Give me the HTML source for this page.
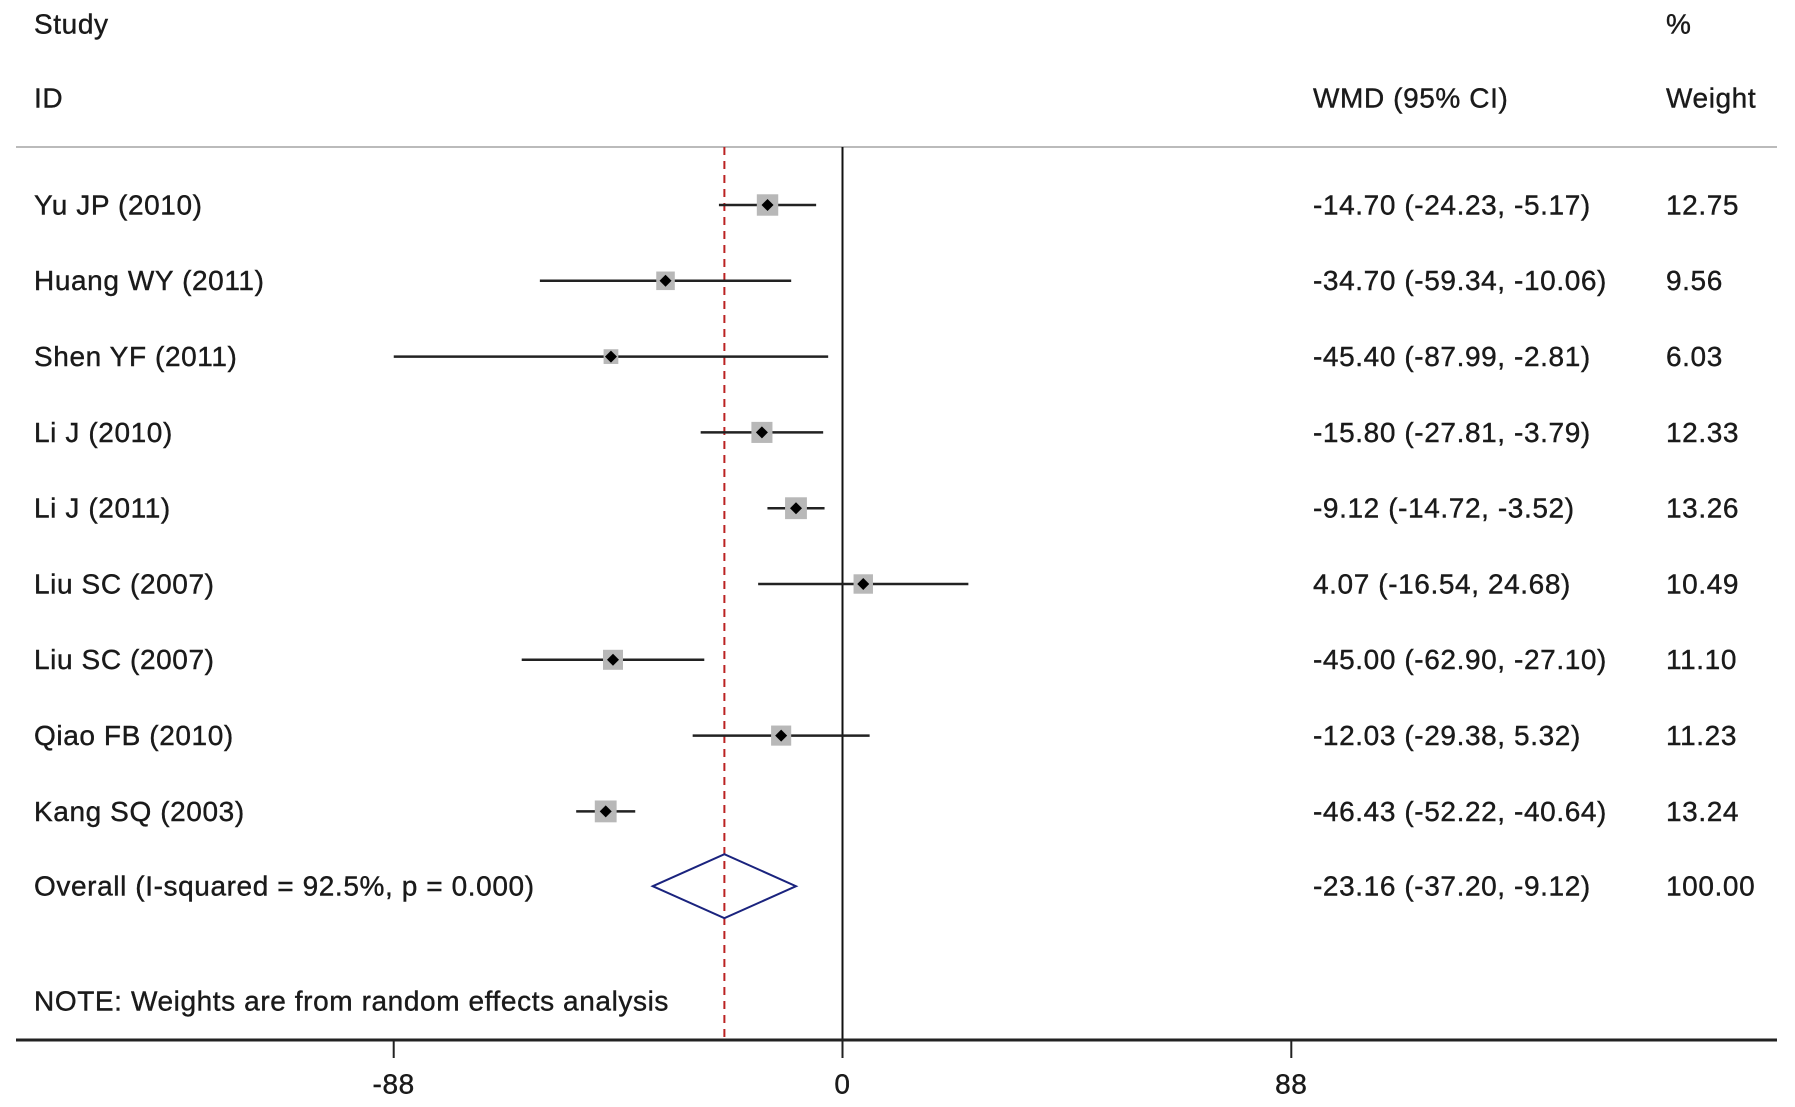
<!DOCTYPE html>
<html><head><meta charset="utf-8"><style>
body{margin:0;background:#fff;}
svg{display:block;}
text{font-family:"Liberation Sans",sans-serif;font-size:28px;letter-spacing:0.6px;fill:#1a1a1a;stroke:#1a1a1a;stroke-width:0.4px;}
</style></head><body>
<svg id="chart" width="1795" height="1107" viewBox="0 0 1795 1107" xmlns="http://www.w3.org/2000/svg">
<g id="g"></g>
</svg>
<script>
const studies=["Yu JP (2010)","Huang WY (2011)","Shen YF (2011)","Li J (2010)","Li J (2011)","Liu SC (2007)","Liu SC (2007)","Qiao FB (2010)","Kang SQ (2003)"];
const est=[-14.70,-34.70,-45.40,-15.80,-9.12,4.07,-45.00,-12.03,-46.43];
const lo=[-24.23,-59.34,-87.99,-27.81,-14.72,-16.54,-62.90,-29.38,-52.22];
const hi=[-5.17,-10.06,-2.81,-3.79,-3.52,24.68,-27.10,5.32,-40.64];
const weights=[12.75,9.56,6.03,12.33,13.26,10.49,11.10,11.23,13.24];
const ciLabels=["-14.70 (-24.23, -5.17)","-34.70 (-59.34, -10.06)","-45.40 (-87.99, -2.81)","-15.80 (-27.81, -3.79)","-9.12 (-14.72, -3.52)","4.07 (-16.54, 24.68)","-45.00 (-62.90, -27.10)","-12.03 (-29.38, 5.32)","-46.43 (-52.22, -40.64)"];
const weightLabels=["12.75","9.56","6.03","12.33","13.26","10.49","11.10","11.23","13.24"];
const overall=[-23.16,-37.20,-9.12];
const ticks=[-88,0,88];

const NS="http://www.w3.org/2000/svg";
const g=document.getElementById('g');
const X=v=>842.5+v*5.1;
const rowY=i=>205+i*75.8;
function el(t,a,name){const e=document.createElementNS(NS,t);for(const k in a)e.setAttribute(k,a[k]);


g.appendChild(e);return e;}
function txt(x,y,s,name,anchor){const e=el('text',{x:x,y:y+2,'dominant-baseline':'middle','text-anchor':anchor||'start'},name);e.textContent=s;return e;}

txt(34,24,"Study","study-header");
txt(34,98,"ID","id-header");
txt(1313,98,"WMD (95% CI)","wmd-header");
txt(1666,24,"%","percent-header");
txt(1666,98,"Weight","weight-header");
el('line',{x1:16,x2:1777,y1:147,y2:147,stroke:'#bbb','stroke-width':2},'header-rule');
el('line',{x1:X(0),x2:X(0),y1:147,y2:1040,stroke:'#111','stroke-width':2},'null-line');
el('line',{x1:X(overall[0]),x2:X(overall[0]),y1:147,y2:1040,stroke:'#b22','stroke-width':2,'stroke-dasharray':'8,6'},'overall-effect-line');

studies.forEach((s,i)=>{const y=rowY(i);
txt(34,y,s,'study-label');
el('line',{x1:X(lo[i]),x2:X(hi[i]),y1:y,y2:y,stroke:'#222','stroke-width':2.5},'ci-line');
const sz=6*Math.sqrt(weights[i]);
el('rect',{x:X(est[i])-sz/2,y:y-sz/2,width:sz,height:sz,fill:'#b8b8b8'},'weight-box');
const d=6;
el('polygon',{points:`${X(est[i])-d},${y} ${X(est[i])},${y-d} ${X(est[i])+d},${y} ${X(est[i])},${y+d}`,fill:'#000'},'point-estimate');
txt(1313,y,ciLabels[i],'ci-label');
txt(1666,y,weightLabels[i],'weight-label');
});
const oy=rowY(9)-1;
txt(34,oy,"Overall  (I-squared = 92.5%, p = 0.000)","overall-label").setAttribute('xml:space','preserve');
el('polygon',{points:`${X(overall[1])},${oy} ${X(overall[0])},${oy-32} ${X(overall[2])},${oy} ${X(overall[0])},${oy+32}`,fill:'none',stroke:'#1a237e','stroke-width':2},'overall-diamond');
txt(1313,oy,"-23.16 (-37.20, -9.12)","overall-ci-label");
txt(1666,oy,"100.00","overall-weight-label");
txt(34,1001,"NOTE: Weights are from random effects analysis","note");
el('line',{x1:16,x2:1777,y1:1040,y2:1040,stroke:'#222','stroke-width':3},'x-axis');
ticks.forEach(t=>{el('line',{x1:X(t),x2:X(t),y1:1040,y2:1058,stroke:'#222','stroke-width':2},'x-tick');
txt(X(t),1084,String(t),'x-tick-label','middle');});
</script>
</body></html>
